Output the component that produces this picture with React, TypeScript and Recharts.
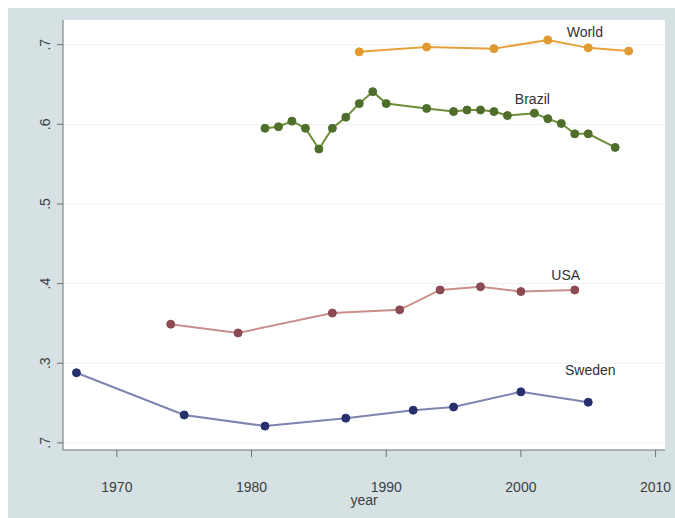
import { LineChart, Line, XAxis, YAxis, CartesianGrid, LabelList } from 'recharts';

// gini index by country
const worldYears = [1988, 1993, 1998, 2002, 2005, 2008];
const worldGini = [0.691, 0.697, 0.695, 0.706, 0.696, 0.692];

const brazilYears = [1981, 1982, 1983, 1984, 1985, 1986, 1987, 1988, 1989, 1990, 1993, 1995, 1996, 1997, 1998, 1999, 2001, 2002, 2003, 2004, 2005, 2007];
const brazilGini = [0.595, 0.597, 0.604, 0.595, 0.569, 0.595, 0.609, 0.626, 0.641, 0.626, 0.620, 0.616, 0.618, 0.618, 0.616, 0.611, 0.614, 0.607, 0.601, 0.588, 0.588, 0.571];

const usaYears = [1974, 1979, 1986, 1991, 1994, 1997, 2000, 2004];
const usaGini = [0.349, 0.338, 0.363, 0.367, 0.392, 0.396, 0.390, 0.392];

const swedenYears = [1967, 1975, 1981, 1987, 1992, 1995, 2000, 2005];
const swedenGini = [0.288, 0.235, 0.221, 0.231, 0.241, 0.245, 0.264, 0.251];

const yearTicks = [1970, 1980, 1990, 2000, 2010];
const giniTicks = [0.2, 0.3, 0.4, 0.5, 0.6, 0.7];
const giniTickLabels = ['.7', '.3', '.4', '.5', '.6', '.7'];

const toRows = (years: number[], vals: number[]) => years.map((year, i) => ({ year, gini: vals[i] }));

const series = [
  { name: 'World', data: toRows(worldYears, worldGini), line: '#e6a23c', dot: '#e09a30', labelIdx: 3, dx: 37, dy: -7 },
  { name: 'Brazil', data: toRows(brazilYears, brazilGini), line: '#6c8f38', dot: '#4f6e2c', labelIdx: 16, dx: -2, dy: -13 },
  { name: 'USA', data: toRows(usaYears, usaGini), line: '#c98f8a', dot: '#8c4a52', labelIdx: 7, dx: -9, dy: -14 },
  { name: 'Sweden', data: toRows(swedenYears, swedenGini), line: '#7d84b0', dot: '#27306e', labelIdx: 7, dx: 2, dy: -31 },
];

const font = '"Liberation Sans", Arial, sans-serif';

const GiniTick = (props: any) => {
  const { x, y, payload } = props;
  const i = giniTicks.indexOf(payload.value);
  return (
    <text
      x={x - 5}
      y={y}
      transform={`rotate(-90 ${x - 5} ${y})`}
      textAnchor="middle"
      fontSize={14}
      fontFamily={font}
      fill="#3a3f44"
    >
      {giniTickLabels[i]}
    </text>
  );
};

const makeLabel = (name: string, idx: number, dx: number, dy: number) => (props: any) => {
  const { x, y, index } = props;
  if (index !== idx) return null;
  return (
    <text x={x + dx} y={y + dy} textAnchor="middle" dominantBaseline="middle" fontSize={14} fontFamily={font} fill="#2e3236">
      {name}
    </text>
  );
};

export default function App() {
  return (
    <div style={{ position: 'absolute', left: 0, top: 0, width: 675, height: 518, overflow: 'hidden' }}>
      <div style={{ position: 'absolute', left: 8, top: 8, width: 667, height: 510, background: '#d6e1e3' }} />
      <div style={{ position: 'absolute', left: 0, top: 0 }}>
        <LineChart width={675} height={518} margin={{ top: 20, right: 10, bottom: 0, left: 8 }}>
          <CartesianGrid vertical={false} horizontalValues={giniTicks} stroke="#eef1f1" fill="#ffffff" />
          <XAxis
            type="number"
            dataKey="year"
            domain={[1966, 2010.7]}
            ticks={yearTicks}
            allowDataOverflow
            height={68}
            tickSize={7}
            tickMargin={25}
            stroke="#6b7275"
            tick={{ fontSize: 14, fontFamily: font, fill: '#3a3f44' }}
            label={{ value: 'year', position: 'insideBottom', offset: 13, fontSize: 14, fontFamily: font, fill: '#3a3f44' }}
          />
          <XAxis xAxisId="top" orientation="top" type="number" domain={[1966, 2010.7]} height={0} tick={false} tickLine={false} stroke="#6b7275" />
          <YAxis
            type="number"
            domain={[0.191, 0.731]}
            ticks={giniTicks}
            allowDataOverflow
            width={55}
            tickSize={6}
            stroke="#6b7275"
            tick={<GiniTick />}
          />
          <YAxis yAxisId="right" orientation="right" domain={[0.191, 0.731]} width={0} tick={false} tickLine={false} stroke="#6b7275" />
          {series.map((s) => (
            <Line
              key={s.name}
              data={s.data}
              dataKey="gini"
              name={s.name}
              type="linear"
              stroke={s.line}
              strokeWidth={2}
              dot={{ r: 4, fill: s.dot, stroke: s.dot, strokeWidth: 1 }}
              activeDot={false}
              isAnimationActive={false}
            >
              <LabelList dataKey="gini" content={makeLabel(s.name, s.labelIdx, s.dx, s.dy)} />
            </Line>
          ))}
        </LineChart>
      </div>
    </div>
  );
}
